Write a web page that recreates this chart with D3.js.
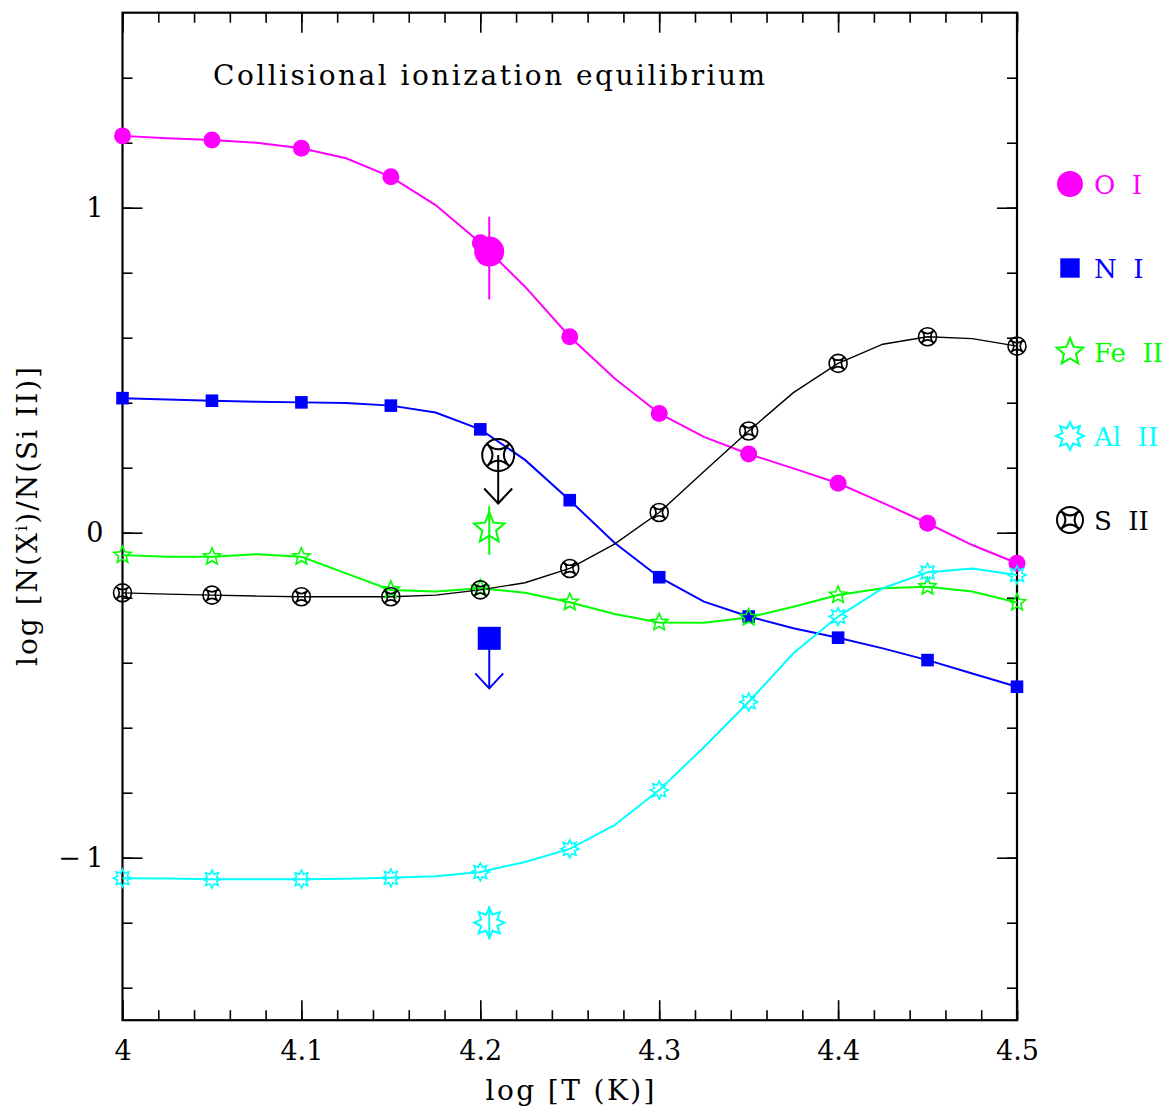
<!DOCTYPE html>
<html>
<head>
<meta charset="utf-8">
<script src="https://cdn.jsdelivr.net/npm/d3@7"></script>
<style>
body { margin:0; background:#fff; }
text { font-family: "DejaVu Serif", "Liberation Serif", serif; fill:#000; }
</style>
</head>
<body>
<div id="chart"></div>
<script>
const width = 1169
const height = 1110
const margin = {top:12.7, bottom:89.8, left:122.5, right:152}

// model curves (CIE), log T in steps of 0.025
const logT = [4.0, 4.025, 4.05, 4.075, 4.1, 4.125, 4.15, 4.175, 4.2, 4.225, 4.25,
              4.275, 4.3, 4.325, 4.35, 4.375, 4.4, 4.425, 4.45, 4.475, 4.5]
const oI   = [1.221, 1.214, 1.208, 1.200, 1.183, 1.152, 1.095, 1.008, 0.892, 0.757, 0.603,
              0.475, 0.367, 0.295, 0.242, 0.198, 0.152, 0.092, 0.029, -0.038, -0.094]
const nI   = [0.414, 0.410, 0.406, 0.403, 0.401, 0.399, 0.391, 0.370, 0.318, 0.224, 0.100,
              -0.031, -0.137, -0.212, -0.258, -0.294, -0.323, -0.356, -0.392, -0.433, -0.474]
const feII = [-0.069, -0.074, -0.074, -0.066, -0.074, -0.125, -0.176, -0.181, -0.171, -0.185, -0.214,
              -0.250, -0.276, -0.277, -0.261, -0.228, -0.192, -0.171, -0.166, -0.181, -0.215]
const alII = [-1.063, -1.064, -1.066, -1.066, -1.066, -1.065, -1.062, -1.057, -1.044, -1.013, -0.973,
              -0.900, -0.792, -0.660, -0.521, -0.371, -0.258, -0.171, -0.122, -0.110, -0.130]
const sII  = [-0.185, -0.189, -0.192, -0.195, -0.197, -0.197, -0.197, -0.192, -0.176, -0.154, -0.110,
              -0.035, 0.062, 0.188, 0.313, 0.431, 0.521, 0.580, 0.603, 0.597, 0.574]

const xTicks = [4, 4.1, 4.2, 4.3, 4.4, 4.5]
const xTickLabels = ["4", "4.1", "4.2", "4.3", "4.4", "4.5"]
const yTicks = [-1, 0, 1]
const yTickLabels = ["\u2212\u20091", "0", "1"]

// observed values
const obsNames = ["O I", "N I", "Fe II", "Al II", "S II"]
const obsT     = [4.205, 4.205, 4.205, 4.205, 4.21]
const obsVal   = [0.865, -0.325, 0.013, -1.200, 0.239]
const obsLo    = [0.718, null, -0.068, -1.251, null]
const obsHi    = [0.972, null, 0.082, -1.149, null]
const obsLimit = [null, -0.479, null, null, 0.090]

const legendNames = ["O  I", "N  I", "Fe  II", "Al  II", "S  II"]

// custom symbols
const star5 = {draw(ctx, size){
    const r = Math.sqrt(size / Math.PI)
    for (let i = 0; i < 10; i++) {
        const a = -Math.PI / 2 + i * Math.PI / 5
        const rr = i % 2 ? r * 0.45 : r
        i ? ctx.lineTo(rr * Math.cos(a), rr * Math.sin(a)) : ctx.moveTo(rr * Math.cos(a), rr * Math.sin(a))
    }
    ctx.closePath()
}}
const star8 = {draw(ctx, size){
    const r = Math.sqrt(size / Math.PI)
    for (let i = 0; i < 16; i++) {
        const a = -Math.PI / 2 + i * Math.PI / 8
        const rr = i % 2 ? r * 0.58 : r
        i ? ctx.lineTo(rr * Math.cos(a), rr * Math.sin(a)) : ctx.moveTo(rr * Math.cos(a), rr * Math.sin(a))
    }
    ctx.closePath()
}}
const astroid = {draw(ctx, size){
    const r = Math.sqrt(size / Math.PI)
    const p = r * Math.SQRT1_2
    ctx.moveTo(r, 0)
    ctx.arc(0, 0, r, 0, 2 * Math.PI)
    ctx.moveTo(p, p)
    ctx.quadraticCurveTo(0, 0, p, -p)
    ctx.quadraticCurveTo(0, 0, -p, -p)
    ctx.quadraticCurveTo(0, 0, -p, p)
    ctx.quadraticCurveTo(0, 0, p, p)
}}

const species = [
    {vals: oI,   color: "#ff00ff", type: d3.symbolCircle, fill: true,  lw: 2,   r: 8.5, big: 15, leg: 13},
    {vals: nI,   color: "#0000ff", type: d3.symbolSquare, fill: true,  lw: 2,   r: 6.3, big: 11.5, leg: 9.7},
    {vals: feII, color: "#00ff00", type: star5,           fill: false, lw: 2,   r: 9,   big: 16, leg: 14},
    {vals: alII, color: "#00ffff", type: star8,           fill: false, lw: 2,   r: 9,   big: 15, leg: 14},
    {vals: sII,  color: "#000000", type: astroid,         fill: false, lw: 1.4, r: 9,   big: 16, leg: 13}
]
// symbol size from radius (square uses its half side)
const symSize = (s, r) => s.type === d3.symbolSquare ? Math.pow(2 * r, 2) : Math.PI * r * r

const svg = d3.select("div#chart").append("svg").attr("width", width).attr("height", height)

const x = d3.scaleLinear().domain([4, 4.5]).range([margin.left, width - margin.right])
const y = d3.scaleLinear().domain([-1.5, 1.6]).range([height - margin.bottom, margin.top])

const xMinor = d3.range(0, 26).map(i => 4 + i * 0.02)
const yMinor = d3.range(-7, 8).map(i => i * 0.2)

const axisGroup = svg.append("g").attr("class", "axisGroup")
const styleAxis = g => {
    g.select(".domain").remove()
    g.selectAll("line").attr("stroke", "#000").attr("stroke-width", 1.6)
    g.selectAll("text").attr("font-family", "DejaVu Serif, serif").attr("font-size", 27).attr("fill", "#000")
}

axisGroup.append("g").attr("transform", `translate(0, ${y(-1.5)})`)
    .call(d3.axisBottom(x).tickValues(xTicks).tickSize(-20).tickPadding(21).tickFormat((d, i) => xTickLabels[i]))
    .call(styleAxis)
axisGroup.append("g").attr("transform", `translate(0, ${y(-1.5)})`)
    .call(d3.axisBottom(x).tickValues(xMinor).tickSize(-10).tickFormat(""))
    .call(styleAxis)
axisGroup.append("g").attr("transform", `translate(0, ${y(1.6)})`)
    .call(d3.axisTop(x).tickValues(xTicks).tickSize(-20).tickFormat(""))
    .call(styleAxis)
axisGroup.append("g").attr("transform", `translate(0, ${y(1.6)})`)
    .call(d3.axisTop(x).tickValues(xMinor).tickSize(-10).tickFormat(""))
    .call(styleAxis)
axisGroup.append("g").attr("transform", `translate(${x(4)}, 0)`)
    .call(d3.axisLeft(y).tickValues(yTicks).tickSize(-20).tickPadding(19).tickFormat((d, i) => yTickLabels[i]))
    .call(styleAxis)
axisGroup.append("g").attr("transform", `translate(${x(4)}, 0)`)
    .call(d3.axisLeft(y).tickValues(yMinor).tickSize(-10).tickFormat(""))
    .call(styleAxis)
axisGroup.append("g").attr("transform", `translate(${x(4.5)}, 0)`)
    .call(d3.axisRight(y).tickValues(yTicks).tickSize(-20).tickFormat(""))
    .call(styleAxis)
axisGroup.append("g").attr("transform", `translate(${x(4.5)}, 0)`)
    .call(d3.axisRight(y).tickValues(yMinor).tickSize(-10).tickFormat(""))
    .call(styleAxis)

axisGroup.append("rect")
    .attr("x", x(4)).attr("y", y(1.6))
    .attr("width", x(4.5) - x(4)).attr("height", y(-1.5) - y(1.6))
    .attr("fill", "none").attr("stroke", "#000").attr("stroke-width", 2.2)

// labels
svg.append("text").attr("x", 213).attr("y", 85)
    .attr("font-size", 28).attr("textLength", 552).attr("lengthAdjust", "spacing")
    .text("Collisional ionization equilibrium")
svg.append("text").attr("x", 570).attr("y", 1100).attr("text-anchor", "middle")
    .attr("font-size", 28).attr("textLength", 169).attr("lengthAdjust", "spacing")
    .text("log [T (K)]")
const yLabel = svg.append("text")
    .attr("transform", `translate(37, ${(y(1.6) + y(-1.5)) / 2}) rotate(-90)`)
    .attr("text-anchor", "middle").attr("font-size", 28)
    .attr("textLength", 299).attr("lengthAdjust", "spacing")
yLabel.append("tspan").text("log [N(X")
yLabel.append("tspan").attr("baseline-shift", "super").attr("font-size", 17).text("i")
yLabel.append("tspan").text(")/N(Si II)]")

// model lines and points
const elementGroup = svg.append("g").attr("class", "elementGroup")
species.forEach(s => {
    elementGroup.append("path")
        .datum(s.vals)
        .attr("fill", "none").attr("stroke", s.color).attr("stroke-width", s.lw)
        .attr("d", d3.line().x((d, i) => x(logT[i])).y(d => y(d)))
})
species.forEach(s => {
    elementGroup.selectAll(null)
        .data(s.vals.map((v, i) => [logT[i], v]).filter((d, i) => i % 2 === 0))
        .enter().append("path")
        .attr("transform", d => `translate(${x(d[0])}, ${y(d[1])})`)
        .attr("d", d3.symbol().type(s.type).size(symSize(s, s.r)))
        .attr("fill", s.fill ? s.color : "none")
        .attr("stroke", s.color).attr("stroke-width", s.fill ? 0 : 1.6)
})

// observed values, error bars and upper limits
const obsGroup = svg.append("g").attr("class", "obsGroup")
species.forEach((s, i) => {
    const cx = x(obsT[i])
    const cy = y(obsVal[i])
    if (obsLo[i] !== null) {
        obsGroup.append("line")
            .attr("x1", cx).attr("x2", cx)
            .attr("y1", y(obsLo[i])).attr("y2", y(obsHi[i]))
            .attr("stroke", s.color).attr("stroke-width", 2)
    }
    if (obsLimit[i] !== null) {
        const tip = y(obsLimit[i])
        obsGroup.append("line")
            .attr("x1", cx).attr("x2", cx).attr("y1", cy).attr("y2", tip)
            .attr("stroke", s.color).attr("stroke-width", 2)
        obsGroup.append("path")
            .attr("d", `M${cx - 14},${tip - 15}L${cx},${tip}L${cx + 14},${tip - 15}`)
            .attr("fill", "none").attr("stroke", s.color).attr("stroke-width", 2)
    }
    obsGroup.append("path")
        .attr("transform", `translate(${cx}, ${cy})`)
        .attr("d", d3.symbol().type(s.type).size(symSize(s, s.big)))
        .attr("fill", s.fill ? s.color : "none")
        .attr("stroke", s.color).attr("stroke-width", s.fill ? 0 : 2)
})

// legend
const legend = svg.append("g").attr("class", "legend")
species.forEach((s, i) => {
    const ly = 184 + i * 84
    legend.append("path")
        .attr("transform", `translate(1070, ${ly})`)
        .attr("d", d3.symbol().type(s.type).size(symSize(s, s.leg)))
        .attr("fill", s.fill ? s.color : "none")
        .attr("stroke", s.color).attr("stroke-width", s.fill ? 0 : 2)
    legend.append("text")
        .attr("x", 1094).attr("y", ly + 10)
        .attr("font-size", 26).attr("xml:space", "preserve").style("white-space", "pre")
        .style("fill", s.color)
        .text(legendNames[i])
})
</script>
</body>
</html>
